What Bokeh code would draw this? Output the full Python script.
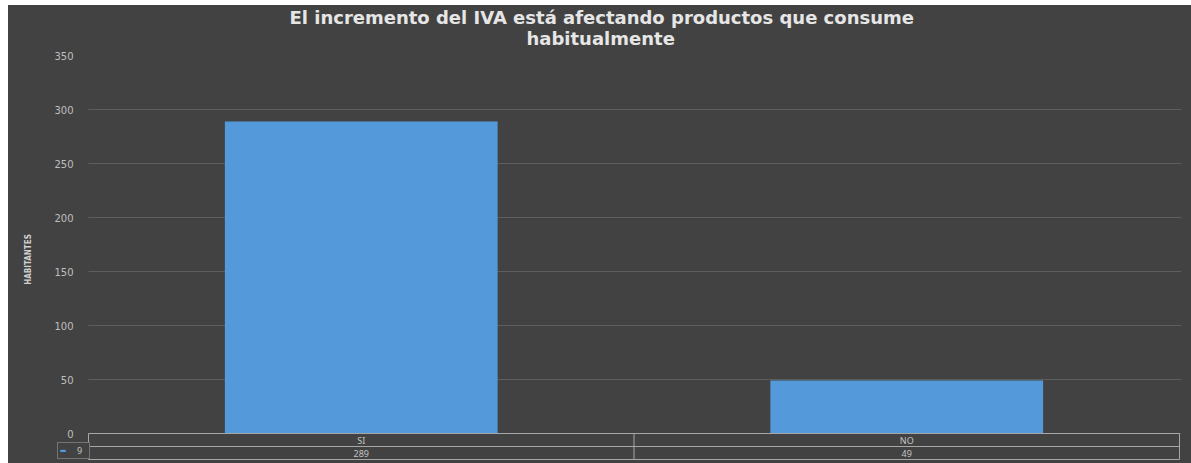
from bokeh.plotting import figure
from bokeh.models import Range1d, FixedTicker, Title, Legend, LegendItem
from bokeh.embed import file_html
from bokeh.resources import INLINE
from bokeh.core.properties import value

# ---- data ----
categories = ["SI", "NO"]
values = [289, 49]
series_name = "9"
y_ticks = [0, 50, 100, 150, 200, 250, 300, 350]
title_line1 = "El incremento del IVA está afectando productos que consume"
title_line2 = "habitualmente"
y_label = "HABITANTES"

# ---- style ----
BG = "#424242"
BAR = "#5499da"
GRID = "#5e5e5e"
TABLE_LINE = "#a6a6a6"
TEXT = "#c4c4c4"
W = 1183
n = len(categories)
PPU = 545.5            # px per category
PPY = 1.08             # px per y unit
ROW = 13               # table row height, px
LEFT = 47              # frame starts at the legend cell
RIGHT = 10
CELL = 33              # legend cell width, px
xs = [i + 0.5 for i in range(n)]
xa = -CELL / PPU
xb = n + 2 / PPU
r1 = -ROW / PPY
r2 = -2 * ROW / PPY
bounds = list(range(n + 1))

p = figure(width=W, height=458, x_range=Range1d(xa, xb), y_range=Range1d(-30 / PPY, 350),
           output_backend="svg", toolbar_location=None,
           x_axis_location=None,
           min_border_left=LEFT, min_border_right=RIGHT, min_border_bottom=0,
           min_border_top=50, background_fill_color=BG, border_fill_color=None)
p.styles = {"background-color": BG}
p.outline_line_color = None
p.title = None
t2 = Title(text=title_line2, align="left", text_font="DejaVu Sans",
           text_font_size="18px", text_font_style="bold", text_color="#e6e6e6",
           standoff=14, offset=440 + 31)
t1 = Title(text=title_line1, align="left", text_font="DejaVu Sans",
           text_font_size="18px", text_font_style="bold", text_color="#e6e6e6",
           standoff=-19, offset=203 + 31)
p.add_layout(t2, "above")
p.add_layout(t1, "above")

bars = p.vbar(x=xs, bottom=0, top=values, width=0.5, fill_color=BAR, line_color=None)

p.xgrid.grid_line_color = None
grid = p.ygrid[0]
if "cross_bounds" in grid.properties():
    grid.ticker = FixedTicker(ticks=y_ticks)
    grid.grid_line_color = GRID
    grid.cross_bounds = (0, xb)
else:
    grid.grid_line_color = None
    p.segment(x0=[0] * len(y_ticks), y0=y_ticks, x1=[xb] * len(y_ticks), y1=y_ticks,
              line_color=GRID, line_width=1)

p.yaxis.ticker = FixedTicker(ticks=y_ticks)
p.yaxis.axis_line_color = None
p.yaxis.major_tick_line_color = None
p.yaxis.minor_tick_line_color = None
p.yaxis.major_tick_out = 0
p.yaxis.major_tick_in = 0
p.yaxis.minor_tick_out = 0
p.yaxis.major_label_text_color = "#bfbfbf"
p.yaxis.major_label_text_font = "DejaVu Sans"
p.yaxis.major_label_text_font_size = "10px"
p.yaxis.major_label_standoff = -18
p.yaxis.axis_label = y_label
p.yaxis.axis_label_text_font = "DejaVu Sans Condensed"
p.yaxis.axis_label_text_font_style = "bold"
p.yaxis.axis_label_text_font_size = "8px"
p.yaxis.axis_label_text_color = "#d0d0d0"
p.yaxis.axis_label_standoff = 18

# data table under the bars: row 1 = categories, row 2 = values
p.rect(x=[n / 2] * 3, y=[0, r1, r2], width=n, height=1, height_units="screen",
       fill_color=TABLE_LINE, line_color=None)
p.rect(x=bounds, y=[r2 / 2] * len(bounds), width=1, width_units="screen", height=-r2,
       fill_color=TABLE_LINE, line_color=None)
p.text(x=xs, y=[r1 / 2] * n, text=categories, text_align="center", text_baseline="middle",
       text_font=value("Noto Sans"), text_font_size="9px", text_color=TEXT)
p.text(x=xs, y=[(r1 + r2) / 2] * n, text=[str(v) for v in values], text_align="center",
       text_baseline="middle", text_font=value("Noto Sans"), text_font_size="9px",
       text_color=TEXT)

legend = Legend(items=[LegendItem(label=series_name, renderers=[bars])],
                location=(2, 4), orientation="horizontal",
                border_line_color=TABLE_LINE, border_line_width=1,
                background_fill_color=BG, background_fill_alpha=1,
                padding=1, margin=0, spacing=0,
                glyph_width=7, glyph_height=3, label_height=11, label_width=11,
                label_standoff=11, label_text_font_size="9px",
                label_text_font="Noto Sans", label_text_color=TEXT,
                label_text_baseline="middle")
p.add_layout(legend, "center")

p.margin = (5, 0, 0, 8)
open("out.html", "w").write(file_html(p, INLINE))
